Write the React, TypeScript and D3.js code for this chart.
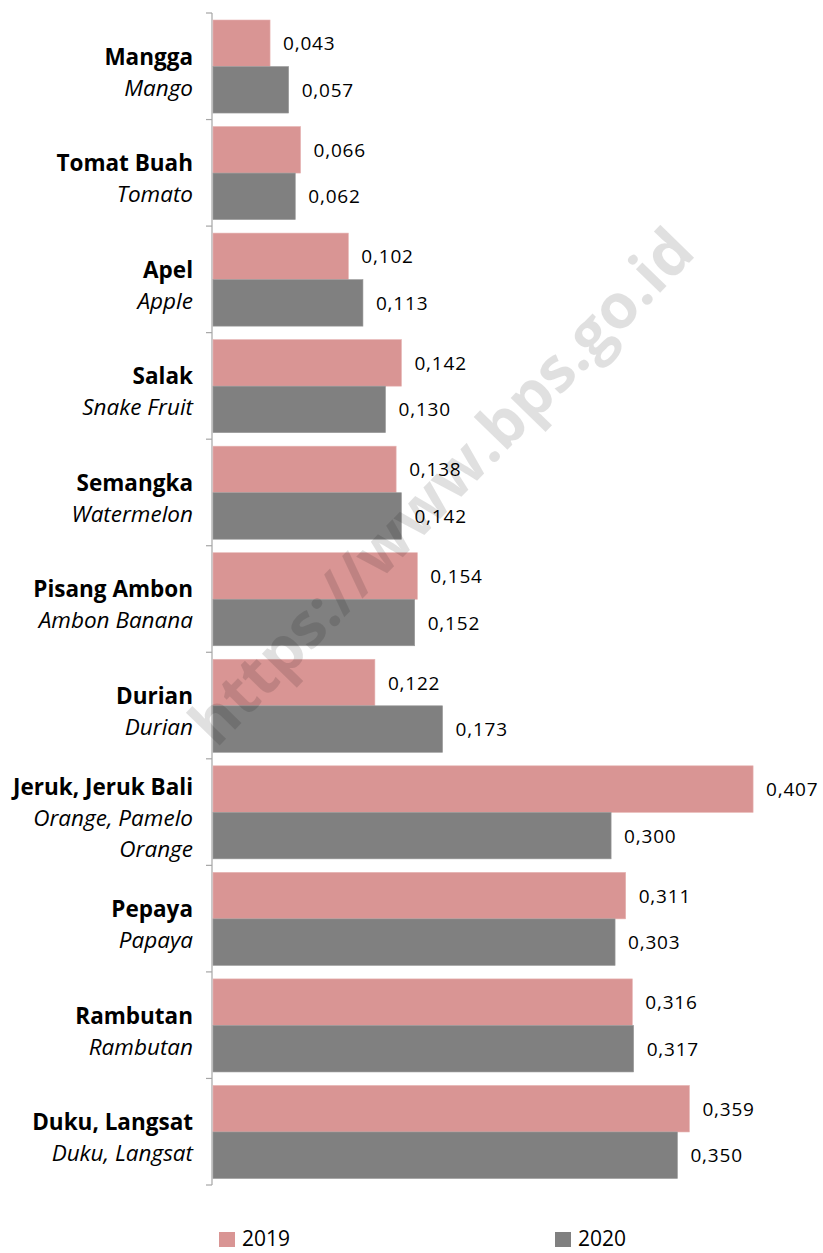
import * as d3 from "d3"

const categories = [
  "Mangga",
  "Tomat Buah",
  "Apel",
  "Salak",
  "Semangka",
  "Pisang Ambon",
  "Durian",
  "Jeruk, Jeruk Bali",
  "Pepaya",
  "Rambutan",
  "Duku, Langsat",
]

const englishNames = [
  ["Mango"],
  ["Tomato"],
  ["Apple"],
  ["Snake Fruit"],
  ["Watermelon"],
  ["Ambon Banana"],
  ["Durian"],
  ["Orange, Pamelo", "Orange"],
  ["Papaya"],
  ["Rambutan"],
  ["Duku, Langsat"],
]

const values2019 = [0.043, 0.066, 0.102, 0.142, 0.138, 0.154, 0.122, 0.407, 0.311, 0.316, 0.359]
const values2020 = [0.057, 0.062, 0.113, 0.13, 0.142, 0.152, 0.173, 0.3, 0.303, 0.317, 0.35]

const seriesNames = ["2019", "2020"]
const seriesColors = ["#d99594", "#808080"]

const W = 823
const H = 1253
const FONT = "'Open Sans', 'Noto Sans', sans-serif"

export default function App() {
  const axisX = 212

  const y = d3.scaleBand<string>().domain(categories).range([13, 1185]).padding(0)
  const inner = d3.scaleBand<string>().domain(seriesNames).range([7, y.bandwidth() - 6.5])
  const x = d3.scaleLinear().domain([0, 0.45]).range([axisX + 1, axisX + 1 + 0.45 * 1327])

  const fmt = (v: number) => d3.format(".3f")(v).replace(".", ",")
  const series = [values2019, values2020]

  // tick positions at band boundaries
  const ticks = categories.map((c) => y(c)!).concat([y.range()[1]])

  return (
    <svg width={W} height={H} style={{ position: "absolute", left: 0, top: 0, background: "#fff" }}>
      {/* axis */}
      <line x1={axisX} x2={axisX} y1={ticks[0]} y2={ticks[ticks.length - 1]} stroke="#a6a6a6" strokeWidth={1.2} />
      {ticks.map((t, i) => (
        <line key={i} x1={axisX - 6} x2={axisX} y1={t} y2={t} stroke="#a6a6a6" strokeWidth={1.2} />
      ))}

      {categories.map((c, ci) => (
        <g key={c} transform={`translate(0, ${y(c)})`}>
          {series.map((vals, si) => {
            const by = inner(seriesNames[si])!
            const bh = inner.bandwidth()
            return (
              <g key={si}>
                <rect
                  x={x(0)}
                  y={by}
                  width={x(vals[ci]) - x(0)}
                  height={bh}
                  fill={seriesColors[si]}
                  stroke={si === 0 ? "#e6b3b2" : "#9a9a9a"}
                  strokeWidth={0.6}
                />
                <text
                  x={x(vals[ci]) + 13}
                  y={by + bh / 2 + 7}
                  fontFamily={FONT}
                  fontSize={19}
                  letterSpacing={0.8}
                  fill="#000"
                >
                  {fmt(vals[ci])}
                </text>
              </g>
            )
          })}
          {(() => {
            const lines = 1 + englishNames[ci].length
            const cy = y.bandwidth() / 2
            const first = cy + 6 - ((lines - 1) * 31) / 2 + 8
            return (
              <g fontFamily={FONT} fontSize={22.5} textAnchor="end" fill="#000">
                <text x={193} y={first} fontWeight="bold">
                  {c}
                </text>
                {englishNames[ci].map((e, ei) => (
                  <text key={ei} x={193} y={first + 31 * (ei + 1)} fontStyle="italic">
                    {e}
                  </text>
                ))}
              </g>
            )
          })()}
        </g>
      ))}

      {/* watermark */}
      <text
        transform="translate(445,490) rotate(-45.8)"
        textAnchor="middle"
        dominantBaseline="middle"
        fontFamily={FONT}
        fontWeight="bold"
        fontSize={62}
        textLength={690}
        lengthAdjust="spacingAndGlyphs"
        fill="#000"
        fillOpacity={0.12}
      >
        https://www.bps.go.id
      </text>

      {/* legend */}
      {seriesNames.map((s, i) => {
        const lx = i === 0 ? 219 : 555
        return (
          <g key={s}>
            <rect x={lx} y={1232} width={16} height={15} fill={seriesColors[i]} />
            <text x={lx + 23} y={1246} fontFamily={FONT} fontSize={21} fill="#000">
              {s}
            </text>
          </g>
        )
      })}
    </svg>
  )
}
